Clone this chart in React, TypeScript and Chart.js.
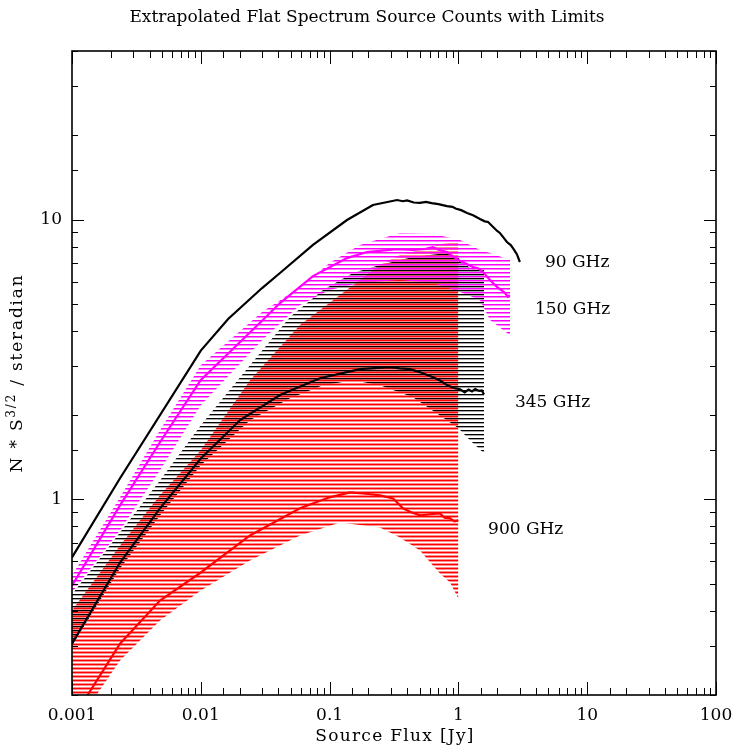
import React, { useEffect, useRef } from 'react';
import { Chart, registerables } from 'chart.js';

Chart.register(...registerables);

// ---------- data (flux in Jy, N*S^1.5 per steradian) ----------
const FLUX_90 = [0.001, 0.00236, 0.01, 0.0163, 0.0299, 0.0412, 0.0743, 0.1365, 0.217, 0.334, 0.37, 0.4, 0.45, 0.503, 0.56, 0.62, 0.7, 0.815, 0.9, 0.95, 1.05, 1.167, 1.3, 1.47, 1.6, 1.7, 1.86, 2.0, 2.1, 2.25, 2.38, 2.55, 2.7, 2.85, 3.0];
const COUNTS_90 = [0.62, 1.19, 3.4, 4.41, 5.69, 6.44, 8.11, 9.96, 11.27, 11.74, 11.62, 11.7, 11.5, 11.46, 11.55, 11.45, 11.35, 11.17, 11.1, 10.95, 10.8, 10.55, 10.35, 10.04, 9.85, 9.8, 9.4, 9.1, 8.95, 8.6, 8.31, 8.1, 7.8, 7.5, 7.05];

const FLUX_150 = [0.001, 0.00236, 0.00482, 0.01, 0.0299, 0.0412, 0.0743, 0.1365, 0.195, 0.334, 0.444, 0.56, 0.635, 0.7, 0.815, 0.92, 1.03, 1.15, 1.3, 1.42, 1.55, 1.76, 2.0, 2.15, 2.3, 2.42, 2.51];
const COUNTS_150 = [0.492, 0.952, 1.6, 2.67, 4.35, 5.03, 6.28, 7.28, 7.65, 7.84, 7.78, 7.85, 7.97, 7.8, 7.65, 7.35, 7.1, 6.95, 6.76, 6.7, 6.49, 6.08, 5.73, 5.6, 5.46, 5.3, 5.37];

const FLUX_345 = [0.001, 0.00236, 0.00482, 0.01, 0.0202, 0.0412, 0.0841, 0.172, 0.294, 0.35, 0.421, 0.5, 0.635, 0.72, 0.815, 0.92, 1.03, 1.12, 1.2, 1.276, 1.35, 1.45, 1.52, 1.58];
const COUNTS_345 = [0.305, 0.595, 0.929, 1.4, 1.92, 2.36, 2.71, 2.92, 2.97, 2.94, 2.92, 2.85, 2.73, 2.66, 2.56, 2.5, 2.475, 2.41, 2.47, 2.43, 2.48, 2.44, 2.45, 2.37];

const FLUX_900 = [0.001, 0.00236, 0.00482, 0.01, 0.0241, 0.0589, 0.1, 0.144, 0.2, 0.246, 0.311, 0.371, 0.43, 0.503, 0.6, 0.719, 0.78, 0.861, 0.93, 1.0];
const COUNTS_900 = [0.163, 0.305, 0.435, 0.548, 0.743, 0.929, 1.017, 1.059, 1.045, 1.033, 1.008, 0.929, 0.9, 0.877, 0.885, 0.891, 0.86, 0.855, 0.835, 0.841];

// limit bands (upper / lower envelopes)
const BAND_150_FLUX = [0.001, 0.00236, 0.00482, 0.01, 0.0299, 0.0589, 0.1, 0.172, 0.352, 0.635, 1.03, 1.47, 1.76, 2.516];
const BAND_150_HIGH = [0.535, 1.017, 1.765, 3.016, 4.67, 5.73, 6.99, 8.11, 8.95, 8.88, 8.45, 7.78, 7.59, 7.16];
const BAND_150_LOW = [0.465, 0.775, 1.27, 2.169, 3.706, 4.944, 5.595, 5.928, 6.076, 5.928, 5.503, 5.152, 4.37, 3.862];

const BAND_345_FLUX = [0.001, 0.00236, 0.00482, 0.01, 0.0241, 0.0493, 0.0889, 0.152, 0.246, 0.444, 0.815, 1.0, 1.23, 1.58];
const BAND_345_HIGH = [0.457, 0.762, 1.169, 1.84, 3.016, 4.48, 5.595, 6.44, 6.875, 7.34, 7.59, 7.28, 6.71, 6.6];
const BAND_345_LOW = [0.3003, 0.5665, 0.8766, 1.323, 1.918, 2.298, 2.558, 2.666, 2.558, 2.317, 1.918, 1.795, 1.626, 1.461];

const BAND_900_FLUX = [0.001, 0.00236, 0.00482, 0.01, 0.0241, 0.0589, 0.1204, 0.246, 0.352, 0.503, 0.719, 0.861, 1.0];
const BAND_900_HIGH = [0.4008, 0.6844, 1.0335, 1.497, 2.666, 4.194, 5.37, 6.875, 7.46, 7.78, 8.17, 8.24, 8.24];
const BAND_900_LOW = [0.149, 0.2655, 0.369, 0.4725, 0.605, 0.743, 0.827, 0.794, 0.731, 0.657, 0.5435, 0.505, 0.442];

const X_TICK_LABELS = ['0.001', '0.01', '0.1', '1', '10', '100'];
const Y_TICK_LABELS = ['1', '10'];

const CURVE_LABELS = ['90 GHz', '150 GHz', '345 GHz', '900 GHz'];
const CURVE_LABEL_FLUX = [4.7, 3.93, 2.75, 1.7];
const CURVE_LABEL_COUNTS = [6.99, 4.78, 2.22, 0.781];

const TITLE = 'Extrapolated Flat Spectrum Source Counts with Limits';
const X_TITLE = 'Source Flux [Jy]';

const FONT = '"DejaVu Serif", "Liberation Serif", serif';

const pts = (xs: number[], ys: number[]) => xs.map((x, i) => ({ x, y: ys[i] }));

function makeStripes(rows: string[]) {
  const c = document.createElement('canvas');
  c.width = 1;
  c.height = rows.length;
  const g = c.getContext('2d')!;
  rows.forEach((col, i) => {
    g.fillStyle = col;
    g.fillRect(0, i, 1, 1);
  });
  return g.createPattern(c, 'repeat') as CanvasPattern;
}

const isDecade = (v: number) => {
  const e = Math.log10(v);
  return Math.abs(e - Math.round(e)) < 1e-6;
};

const decorPlugin = {
  id: 'decor',
  afterDatasetsDraw(chart: any) {
    const { ctx, chartArea: a, scales } = chart;
    const xs = scales.x;
    const ys = scales.y;
    ctx.save();
    ctx.strokeStyle = '#000';
    ctx.lineWidth = 1;
    ctx.beginPath();
    for (const t of xs.ticks) {
      const px = Math.round(xs.getPixelForValue(t.value)) + 0.5;
      const len = isDecade(t.value) ? 13 : 7;
      ctx.moveTo(px, a.bottom);
      ctx.lineTo(px, a.bottom - len);
      ctx.moveTo(px, a.top);
      ctx.lineTo(px, a.top + len);
    }
    for (const t of ys.ticks) {
      const py = Math.round(ys.getPixelForValue(t.value)) + 0.5;
      const len = isDecade(t.value) ? 12 : 6;
      ctx.moveTo(a.left, py);
      ctx.lineTo(a.left + len, py);
      ctx.moveTo(a.right, py);
      ctx.lineTo(a.right - len, py);
    }
    ctx.stroke();
    ctx.lineWidth = 1.6;
    ctx.strokeRect(a.left, a.top, a.right - a.left, a.bottom - a.top);

    // curve labels
    ctx.fillStyle = '#000';
    ctx.font = `17px ${FONT}`;
    ctx.textAlign = 'left';
    ctx.textBaseline = 'middle';
    CURVE_LABELS.forEach((s, i) => {
      ctx.fillText(s, xs.getPixelForValue(CURVE_LABEL_FLUX[i]), ys.getPixelForValue(CURVE_LABEL_COUNTS[i]));
    });

    // main title
    ctx.textAlign = 'center';
    ctx.fillText(TITLE, chart.width / 2, 18);

    // x axis title
    ctx.letterSpacing = '1.3px';
    ctx.fillText(X_TITLE, (a.left + a.right) / 2 + 1, 737);

    // y axis title with superscript
    ctx.letterSpacing = '1.8px';
    ctx.translate(18, (a.top + a.bottom) / 2);
    ctx.rotate(-Math.PI / 2);
    const p1 = 'N * S';
    const p2 = '3/2';
    const p3 = ' / steradian';
    ctx.font = `17px ${FONT}`;
    const w1 = ctx.measureText(p1).width;
    const w3 = ctx.measureText(p3).width;
    ctx.font = `12px ${FONT}`;
    const w2 = ctx.measureText(p2).width;
    const x0 = -(w1 + w2 + w3) / 2;
    ctx.textAlign = 'left';
    ctx.font = `17px ${FONT}`;
    ctx.fillText(p1, x0, 0);
    ctx.font = `12px ${FONT}`;
    ctx.fillText(p2, x0 + w1, -6);
    ctx.font = `17px ${FONT}`;
    ctx.fillText(p3, x0 + w1 + w2, 0);
    ctx.restore();
  },
};

export default function App() {
  const ref = useRef<HTMLCanvasElement | null>(null);

  useEffect(() => {
    const canvas = ref.current;
    if (!canvas) return;
    const magentaHatch = makeStripes(['rgba(255,0,255,1)', 'rgba(255,0,255,0.5)', 'rgba(255,0,255,0)', 'rgba(255,0,255,0)']);
    const blackHatch = makeStripes(['rgba(0,0,0,0)', 'rgba(0,0,0,0)', 'rgba(0,0,0,1)', 'rgba(0,0,0,0.35)']);
    const redHatch = makeStripes(['rgba(255,0,0,1)', 'rgba(255,0,0,0.45)', 'rgba(255,0,0,0)', 'rgba(255,0,0,0.45)']);

    const edge = { borderWidth: 0, borderColor: 'rgba(0,0,0,0)', pointRadius: 0, tension: 0 };
    const line = (color: string) => ({ borderWidth: 2.2, borderColor: color, pointRadius: 0, tension: 0, fill: false });

    const chart = new Chart(canvas, {
      type: 'line',
      data: {
        datasets: [
          { ...edge, data: pts(BAND_150_FLUX, BAND_150_HIGH), fill: 1, backgroundColor: magentaHatch, order: 10 },
          { ...edge, data: pts(BAND_150_FLUX, BAND_150_LOW), fill: false, order: 11 },
          { ...edge, data: pts(BAND_345_FLUX, BAND_345_HIGH), fill: 3, backgroundColor: blackHatch, order: 30 },
          { ...edge, data: pts(BAND_345_FLUX, BAND_345_LOW), fill: false, order: 31 },
          { ...edge, data: pts(BAND_900_FLUX, BAND_900_HIGH), fill: 5, backgroundColor: redHatch, order: 20 },
          { ...edge, data: pts(BAND_900_FLUX, BAND_900_LOW), fill: false, order: 21 },
          { ...line('#000000'), data: pts(FLUX_90, COUNTS_90), order: 1 },
          { ...line('#ff00ff'), data: pts(FLUX_150, COUNTS_150), order: 1 },
          { ...line('#000000'), data: pts(FLUX_345, COUNTS_345), order: 1 },
          { ...line('#ff0000'), data: pts(FLUX_900, COUNTS_900), order: 1 },
        ] as any,
      },
      options: {
        animation: false,
        responsive: false,
        devicePixelRatio: 1,
        layout: { padding: { top: 51, right: 18, left: 0, bottom: 0 } },
        plugins: { legend: { display: false }, tooltip: { enabled: false }, title: { display: false } },
        scales: {
          x: {
            type: 'logarithmic',
            min: 0.001,
            max: 100,
            grid: { display: false, drawTicks: false },
            border: { display: false },
            ticks: {
              autoSkip: false,
              maxRotation: 0,
              minRotation: 0,
              padding: 10,
              color: '#000',
              font: { family: FONT, size: 17 },
              callback: (v: any) => (isDecade(Number(v)) ? X_TICK_LABELS[Math.round(Math.log10(Number(v))) + 3] : ''),
            },
            afterFit: (s: any) => {
              s.height = 53;
              s.paddingLeft = 0;
              s.paddingRight = 0;
            },
          },
          y: {
            type: 'logarithmic',
            min: 0.2,
            max: 40,
            grid: { display: false, drawTicks: false },
            border: { display: false },
            ticks: {
              autoSkip: false,
              padding: 10,
              color: '#000',
              font: { family: FONT, size: 17 },
              callback: (v: any) => {
                const n = Number(v);
                if (!isDecade(n)) return '';
                const e = Math.round(Math.log10(n));
                return Y_TICK_LABELS[e] ?? '';
              },
            },
            afterFit: (s: any) => {
              s.width = 72;
              s.paddingTop = 0;
              s.paddingBottom = 0;
            },
          },
        },
      } as any,
      plugins: [decorPlugin],
    });
    return () => chart.destroy();
  }, []);

  return (
    <div style={{ position: 'absolute', left: 0, top: 0, width: 734, height: 748, background: '#fff' }}>
      <canvas ref={ref} width={734} height={748} style={{ display: 'block' }} />
    </div>
  );
}
